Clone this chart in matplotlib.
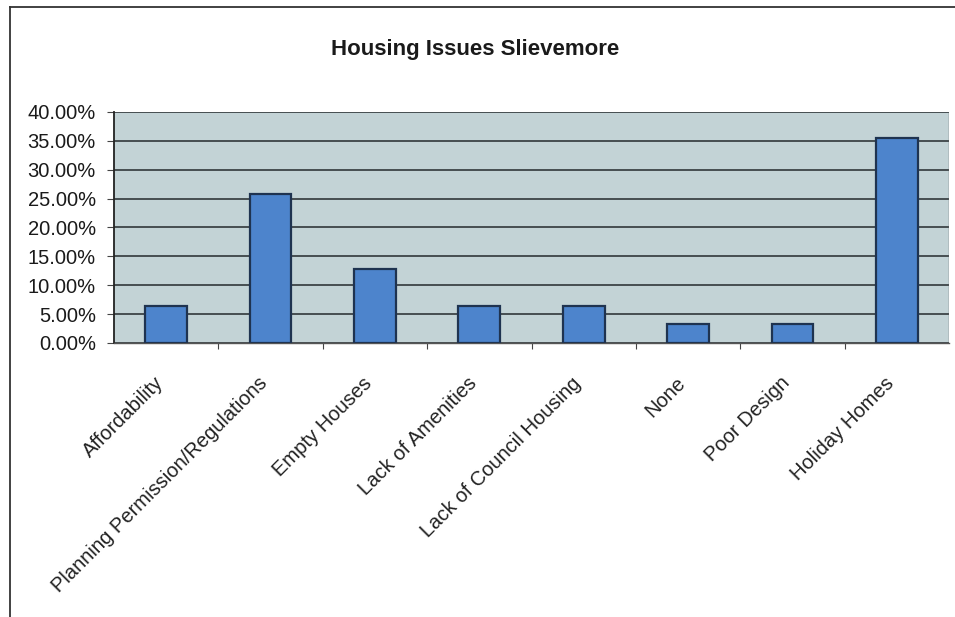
import matplotlib
matplotlib.use("Agg")
import matplotlib.pyplot as plt
from matplotlib.ticker import FuncFormatter, MultipleLocator
from matplotlib.lines import Line2D

plt.rcParams['font.family'] = ['Liberation Sans', 'DejaVu Sans']

categories = ['Affordability', 'Planning Permission/Regulations', 'Empty Houses',
              'Lack of Amenities', 'Lack of Council Housing', 'None',
              'Poor Design', 'Holiday Homes']
shares = [6.45, 25.81, 12.90, 6.45, 6.45, 3.23, 3.23, 35.48]

fig = plt.figure(figsize=(9.55, 6.17), dpi=100)
ax = fig.add_axes([114 / 955, 1 - 343 / 617, 835 / 955, 231 / 617])

x = list(range(len(categories)))
ax.bar(x, shares, width=0.4, color='#4d84cc', edgecolor='#1f3350', linewidth=1.6, zorder=3)

ax.set_facecolor('#c3d3d6')
ax.set_xlim(-0.5, len(categories) - 0.5)
ax.set_ylim(0, 40)
ax.yaxis.set_major_locator(MultipleLocator(5))
ax.yaxis.set_major_formatter(FuncFormatter(lambda v, p: f'{v:.2f}%'))
ax.grid(axis='y', color='#3c4446', linewidth=1.3, zorder=1)

# ticks sit between categories
ax.set_xticks([i + 0.5 for i in x[:-1]])
ax.set_xticklabels([])
ax.tick_params(axis='x', length=4, color='#444444')
ax.tick_params(axis='y', length=5, color='#444444', labelsize=14.5, labelcolor='#1a1a1a', pad=8)

# category names, slanted under each bar
for i, name in zip(x, categories):
    ax.annotate(name, xy=(i, 0), xycoords=('data', 'axes fraction'),
                xytext=(-9, -22), textcoords='offset points',
                rotation=45, rotation_mode='anchor', ha='right', va='top',
                fontsize=14.5, color='#222222')

for side in ['top', 'right']:
    ax.spines[side].set_visible(False)
ax.spines['left'].set_color('#222222')
ax.spines['left'].set_linewidth(1.3)
ax.spines['bottom'].set_color('#555555')
ax.spines['bottom'].set_linewidth(1.0)
ax.axvline(len(categories) - 0.5, color='#666666', linewidth=1.0, zorder=2)

fig.text(0.498, 1 - 50 / 617, 'Housing Issues Slievemore', ha='center', va='center',
         fontsize=16, fontweight='bold', color='#1a1a1a')

# chart frame
fig.add_artist(Line2D([10 / 955, 1], [1 - 7 / 617, 1 - 7 / 617], color='#333333', linewidth=1.3))
fig.add_artist(Line2D([10 / 955, 10 / 955], [0, 1 - 7 / 617], color='#333333', linewidth=1.3))

fig.savefig('out.png', dpi=100, facecolor='white')
